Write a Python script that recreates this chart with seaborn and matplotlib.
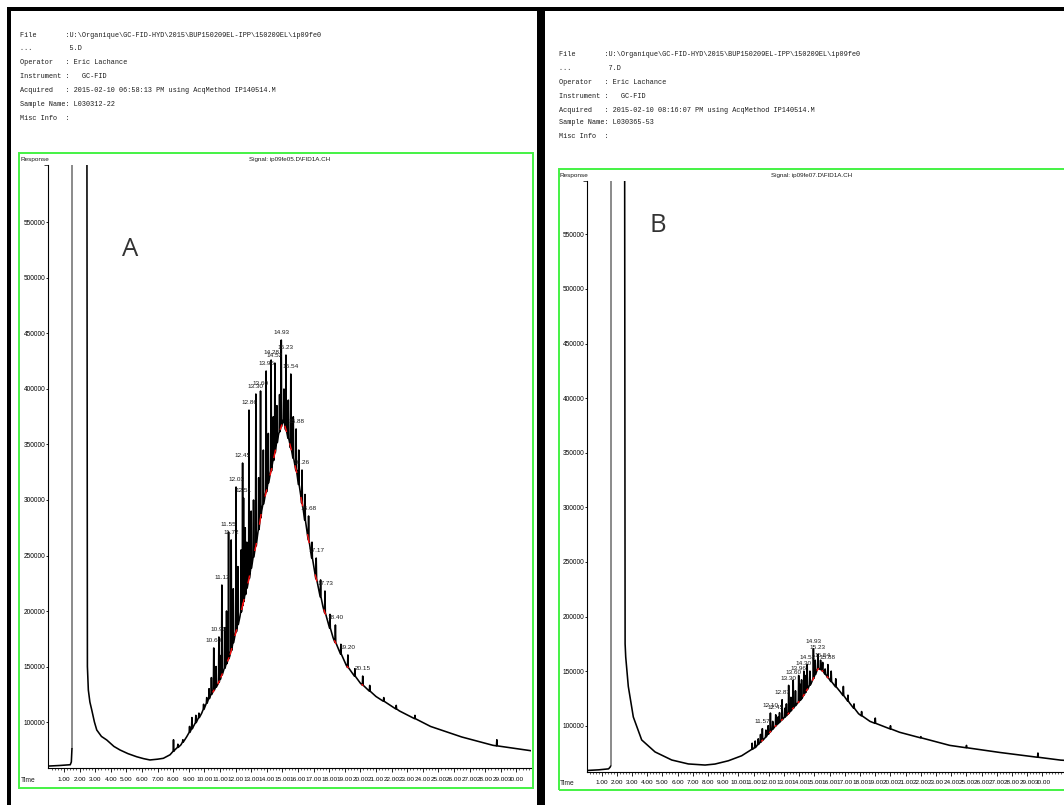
import numpy as np
import pandas as pd
import matplotlib
matplotlib.use("Agg")
import matplotlib.pyplot as plt
import seaborn as sns
from matplotlib.patches import Rectangle

sns.set_style("white")
SANS = ['Liberation Sans', 'DejaVu Sans']
MONO = ['Liberation Mono', 'DejaVu Sans Mono']
plt.rcParams['font.family'] = SANS

# ---------------- data ----------------
TIME_TICKS = [1, 2, 3, 4, 5, 6, 7, 8, 9, 10, 11, 12, 13, 14, 15,
              16, 17, 18, 19, 20, 21, 22, 23, 24, 25, 26, 27, 28, 29, 30]
TIME_TICK_LABELS = ["1.00", "2.00", "3.00", "4.00", "5.00", "6.00", "7.00", "8.00",
                    "9.00", "10.00", "11.00", "12.00", "13.00", "14.00", "15.00",
                    "16.00", "17.00", "18.00", "19.00", "20.00", "21.00", "22.00",
                    "23.00", "24.00", "25.00", "26.00", "27.00", "28.00", "29.00", "30.00"]
RESP_TICKS = [100000, 150000, 200000, 250000, 300000, 350000, 400000, 450000, 500000, 550000]
RESP_TICK_LABELS = ["100000", "150000", "200000", "250000", "300000",
                    "350000", "400000", "450000", "500000", "550000"]

A_header = [
    "File       :U:\\Organique\\GC-FID-HYD\\2015\\BUP150209EL-IPP\\150209EL\\ip09fe0",
    "...         5.D",
    "Operator   : Eric Lachance",
    "Instrument :   GC-FID",
    "Acquired   : 2015-02-10 06:58:13 PM using AcqMethod IP140514.M",
    "Sample Name: L030312-22",
    "Misc Info  :",
]
B_header = [
    "File       :U:\\Organique\\GC-FID-HYD\\2015\\BUP150209EL-IPP\\150209EL\\ip09fe0",
    "...         7.D",
    "Operator   : Eric Lachance",
    "Instrument :   GC-FID",
    "Acquired   : 2015-02-10 08:16:07 PM using AcqMethod IP140514.M",
    "Sample Name: L030365-53",
    "Misc Info  :",
]
A_signal = "Signal: ip09fe05.D\\FID1A.CH"
B_signal = "Signal: ip09fe07.D\\FID1A.CH"

# --- chromatogram A ---
A_pre_t = [0.00, 0.70, 1.40, 1.47, 1.51]
A_pre_y = [60300, 60800, 61500, 64000, 76000]
A_solvent_t = 1.51
A_solvent_foot = 76000
A_main_t = [2.47, 2.50, 2.56, 2.66, 2.78, 2.95, 3.10, 3.40, 3.74, 4.20, 4.59, 5.10,
            5.66, 6.10, 6.51, 7.00, 7.37, 7.80, 8.10, 8.50, 8.87, 9.29, 9.83, 10.36,
            10.90, 11.64, 12.28, 12.81, 13.35, 13.67, 14.31, 14.74, 15.06, 15.49, 15.90, 16.20,
            16.60, 17.10, 17.60, 18.25, 19.10, 20.00, 21.00, 22.50, 24.50, 26.50, 28.50, 31.00]
A_main_y = [620000, 150000, 128800, 118000, 110800, 100000, 92800, 87000, 83800, 78000, 74800, 71500,
            68700, 67000, 65800, 66500, 67300, 70500, 74800, 79500, 86800, 95800, 108000, 122800,
            135000, 160000, 195000, 226000, 262000, 290000, 328000, 358000, 372000, 350000, 326000, 302000,
            270000, 233000, 204000, 176000, 151000, 135000, 123000, 110000, 96000, 86500, 79000, 74000]
A_peak_lbl = ["10.60", "10.93", "11.12", "11.55", "11.72", "12.03", "12.45", "12.51", "12.86",
              "13.30", "13.60", "13.96", "14.28", "14.52", "14.93", "15.23", "15.54", "15.88",
              "16.26", "16.68", "17.17", "17.73", "18.40", "19.20", "20.15"]
A_peak_t = [10.60, 10.93, 11.12, 11.55, 11.72, 12.03, 12.45, 12.51, 12.86,
            13.30, 13.60, 13.96, 14.28, 14.52, 14.93, 15.23, 15.54, 15.88,
            16.26, 16.68, 17.17, 17.73, 18.40, 19.20, 20.15]
A_peak_y = [166700, 176600, 223400, 271200, 264000, 311700, 333300, 301800, 381000,
            395500, 398200, 416200, 426100, 423400, 444100, 430600, 413500, 364000,
            327000, 285600, 247700, 218000, 187400, 160400, 141400]
A_minor_t = [8.02, 8.30, 8.62, 9.05, 9.20, 9.45, 9.65, 9.95, 10.15, 10.30, 10.45, 10.75,
             11.00, 11.30, 11.42, 11.85, 12.15, 12.35, 12.62, 12.72, 13.00, 13.15, 13.48, 13.78,
             14.10, 14.42, 14.65, 14.82, 15.10, 15.38, 15.70, 16.05, 16.45, 16.90, 17.45, 18.05,
             18.75, 19.65, 20.60, 21.50, 22.30, 23.50, 28.75]
A_minor_y = [84000, 80000, 84000, 96000, 104000, 106000, 108000, 116000, 122000, 130000, 140000, 150000,
             160000, 185000, 200000, 220000, 240000, 255000, 275000, 262000, 290000, 300000, 320000, 345000,
             360000, 375000, 385000, 395000, 400000, 390000, 375000, 345000, 305000, 262000, 228000, 197000,
             170000, 148000, 133000, 122000, 115000, 106000, 84000]

# --- chromatogram B ---
B_pre_t = [0.00, 0.80, 1.45, 1.55, 1.59]
B_pre_y = [59000, 59600, 60500, 62000, 63000]
B_solvent_t = 1.59
B_solvent_foot = 63000
B_main_t = [2.51, 2.54, 2.58, 2.75, 3.08, 3.63, 4.51, 5.61, 6.70, 7.80, 8.45, 9.33,
            10.21, 11.09, 11.75, 12.38, 13.28, 14.16, 14.82, 15.25, 15.55, 16.00, 16.70, 17.30,
            17.90, 18.65, 20.60, 23.90, 27.20, 31.20, 32.50]
B_main_y = [620000, 175000, 163000, 136000, 108000, 87000, 76000, 68600, 65000, 64000, 64900, 67900,
            72500, 80000, 89000, 99000, 111000, 125000, 140000, 153000, 150000, 142000, 131000, 121000,
            111000, 104000, 94000, 82000, 75500, 68500, 67500]
B_peak_lbl = ["11.57", "12.10", "12.45", "12.87", "13.30", "13.60", "13.96", "14.30",
              "14.52", "14.93", "15.23", "15.54", "15.88"]
B_peak_t = [11.57, 12.10, 12.45, 12.87, 13.30, 13.60, 13.96, 14.30, 14.52, 14.93, 15.23, 15.54, 15.88]
B_peak_y = [97300, 111600, 110000, 123800, 137000, 141800, 146000, 150000, 156000,
            170500, 165300, 158000, 156000]
B_minor_t = [10.90, 11.10, 11.30, 11.45, 11.80, 11.95, 12.25, 12.60, 12.70, 13.05, 13.15, 13.45,
             13.75, 14.05, 14.15, 14.40, 14.70, 15.05, 15.40, 15.70, 16.10, 16.40, 16.90, 17.20,
             17.60, 18.10, 19.00, 20.00, 22.00, 25.00, 29.70]
B_minor_y = [84000, 86000, 88000, 92000, 96000, 100000, 104000, 108000, 112000, 116000, 120000, 126000,
             132000, 138000, 142000, 146000, 150000, 160000, 160000, 152000, 150000, 143000, 136000, 128000,
             120000, 113000, 107000, 100000, 90000, 82000, 75000]

# ---------------- figure / layout (pixels) ----------------
W, H = 1064, 805
fig = plt.figure(figsize=(W / 100, H / 100), dpi=100)
fig.patch.set_facecolor("white")


def fx(x):
    return x / W


def fy(y):
    return 1 - y / H


def add_rect(x0, y0, x1, y1, **kw):
    r = Rectangle((fx(x0), fy(y1)), fx(x1) - fx(x0), fy(y0) - fy(y1),
                  transform=fig.transFigure, **kw)
    fig.patches.append(r)


# black outer borders
for (x0, y0, x1, y1) in [(7, 7, 11, 805), (7, 7, 540, 11), (537, 7, 545, 805), (540, 7, 1064, 11)]:
    add_rect(x0, y0, x1, y1, facecolor="black", edgecolor="none", zorder=5)

# green frames
add_rect(19, 153, 533, 788, facecolor="none", edgecolor="#44f244", lw=1.4, zorder=4)
add_rect(559, 169, 1080, 790, facecolor="none", edgecolor="#44f244", lw=1.4, zorder=4)


def build_trace(pre_t, pre_y, main_t, main_y, sp_t, sp_y, half=0.025):
    rows = [(t, y, 0) for t, y in zip(pre_t, pre_y)]
    pts = list(zip(main_t, main_y))
    for t, a in zip(sp_t, sp_y):
        f = float(np.interp(t, main_t, main_y))
        pts += [(t - half, f), (t, a), (t + half, f)]
    pts.sort()
    rows += [(t, y, 1) for t, y in pts]
    return pd.DataFrame(rows, columns=["t", "y", "seg"])


def geom_text_x(axis_x):
    return axis_x - 27


def draw_panel(geom, pre_t, pre_y, sol_t, sol_foot, main_t, main_y,
               pk_t, pk_y, pk_lbl, mn_t, mn_y, header, header_pos, signal, signal_pos,
               letter, letter_pos):
    x0, x1, ytop, ybot, xlim, ylim = geom
    ax = fig.add_axes([fx(x0), fy(ybot), (x1 - x0) / W, (ybot - ytop) / H])
    ax.patch.set_alpha(0)
    df = build_trace(pre_t, pre_y, main_t, main_y,
                     list(pk_t) + list(mn_t), list(pk_y) + list(mn_y))
    sns.lineplot(data=df, x="t", y="y", units="seg", estimator=None, sort=False,
                 color="black", lw=1.15, ax=ax, legend=False, zorder=3)
    # solvent front (grey)
    ax.vlines([sol_t], [sol_foot], [ylim[1] * 1.05], color="#8a8a8a", lw=1.4, zorder=2)
    # integration baselines (red)
    for t in pk_t:
        tt = [t - 0.07, t + 0.04]
        ax.plot(tt, np.interp(tt, main_t, main_y), color="#ff1010", lw=1.0, zorder=4,
                solid_capstyle="butt")
    for t, a, s in zip(pk_t, pk_y, pk_lbl):
        ax.annotate(s, (t, a), xytext=(0, 5.2), textcoords="offset points",
                    ha="center", va="center", fontsize=4.6, color="#1a1a1a", zorder=6)
    ax.set_xlim(*xlim)
    ax.set_ylim(*ylim)
    ax.set_xlabel("")
    ax.set_ylabel("")
    for s in ["top", "right"]:
        ax.spines[s].set_visible(False)
    for s in ["left", "bottom"]:
        ax.spines[s].set_color("black")
        ax.spines[s].set_linewidth(0.8)
    ax.set_xticks(TIME_TICKS)
    ax.set_xticklabels(TIME_TICK_LABELS)
    ax.set_xticks(np.arange(0.2, xlim[1], 0.2), minor=True)
    ax.tick_params(axis="x", which="major", length=3, width=0.6, pad=3.2,
                   labelsize=4.6, colors="black", direction="out", bottom=True)
    ax.tick_params(axis="x", which="minor", length=1.6, width=0.5, bottom=True, direction="out")
    ax.set_yticks(RESP_TICKS)
    ax.set_yticklabels(RESP_TICK_LABELS)
    ax.tick_params(axis="y", which="major", length=1.2, width=0.6, pad=0.4,
                   labelsize=4.7, colors="black", left=True)
    ax.set_yticks([ylim[1]], minor=True)
    ax.tick_params(axis="y", which="minor", length=3, width=0.6, left=True)
    ax.grid(False)
    # texts
    for line, yy in zip(header, header_pos[1]):
        fig.text(fx(header_pos[0]), fy(yy), line, family=MONO, fontsize=4.95,
                 color="#1e1e1e", ha="left", va="center")
    fig.text(fx(signal_pos[0]), fy(signal_pos[1]), signal, fontsize=4.5,
             ha="center", va="center", color="#1a1a1a")
    fig.text(fx(geom_text_x(x0)), fy(ytop - 5), "Response", fontsize=4.6,
             ha="left", va="center", color="#1a1a1a")
    fig.text(fx(geom_text_x(x0)), fy(ybot + 12), "Time", fontsize=4.8,
             ha="left", va="center", color="#1a1a1a")
    fig.text(fx(letter_pos[0]), fy(letter_pos[1]), letter, family=["Open Sans", "DejaVu Sans"],
             fontsize=18.5, ha="center", va="center", color="#333333")
    return ax


geomA = (47.5, 531, 165, 768, (-0.058, 30.94), (58560, 601800))
geomB = (586.7, 1075, 180.7, 771.7, (0.013, 32.14), (57900, 599100))

draw_panel(geomA, A_pre_t, A_pre_y, A_solvent_t, A_solvent_foot, A_main_t, A_main_y,
           A_peak_t, A_peak_y, A_peak_lbl, A_minor_t, A_minor_y,
           A_header, (20, [35.5, 49, 63, 77, 90.5, 104, 118]), A_signal, (290, 160),
           "A", (130, 250))
draw_panel(geomB, B_pre_t, B_pre_y, B_solvent_t, B_solvent_foot, B_main_t, B_main_y,
           B_peak_t, B_peak_y, B_peak_lbl, B_minor_t, B_minor_y,
           B_header, (559, [54, 68, 82, 96, 110, 123, 137]), B_signal, (812, 176),
           "B", (658, 226))

fig.savefig("out.png", dpi=100, facecolor="white")
